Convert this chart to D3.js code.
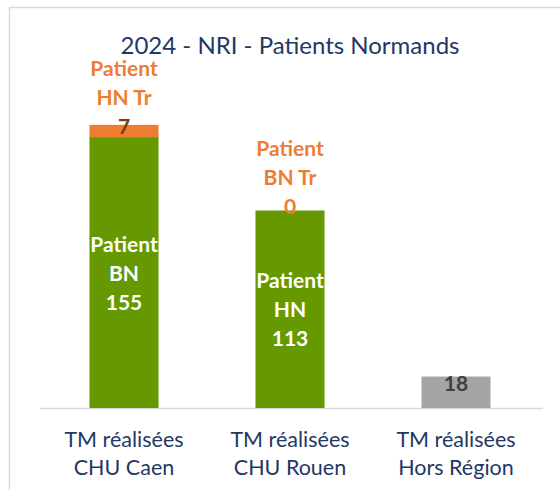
<!DOCTYPE html>
<html>
<head>
<meta charset="utf-8">
<script src="https://cdn.jsdelivr.net/npm/d3@7"></script>
<style>
  body { margin: 0; background: #fff; }
  text { font-family: Lato, "Open Sans", sans-serif; }
</style>
</head>
<body>
<div id="chart"></div>
<script>
// categories, split in two lines like the original
var categories = ["Caen", "Rouen", "Hors"];
var catLines = [["TM réalisées", "CHU Caen"], ["TM réalisées", "CHU Rouen"], ["TM réalisées", "Hors Région"]];
var baseValues = [155, 113, 18];
var baseNames = [["Patient", "BN"], ["Patient", "HN"], []];
var baseColors = ["#669900", "#669900", "#a5a5a5"];
var trValues = [7, 0, 0];
var trNames = [["Patient", "HN Tr"], ["Patient", "BN Tr"], null];
var title = "2024 - NRI - Patients Normands";

var W = 560, H = 490;
var svg = d3.select("#chart").append("svg")
    .attr("width", W)
    .attr("height", H);

// light frame around the chart area
svg.append("rect")
    .attr("x", 9.5).attr("y", 7.5)
    .attr("width", W).attr("height", H)
    .attr("fill", "none")
    .attr("stroke", "#d9d9d9")
    .attr("stroke-width", 1.5);

var x = d3.scaleBand().domain(categories).range([41, 539])
    .paddingInner(0.584).paddingOuter(0.292);
var y = d3.scaleLinear().domain([0, 180]).range([408, 93.4]);

var data = categories.map(function(c, i) {
  return {cat: c, base: baseValues[i], tr: trValues[i]};
});
var stack = d3.stack().keys(["base", "tr"])(data);

svg.append("text")
    .attr("x", 290)
    .attr("y", 54)
    .attr("text-anchor", "middle")
    .style("font-size", "24px")
    .style("fill", "#1f3864")
    .text(title);

// axis line
svg.append("line")
    .attr("x1", 40).attr("x2", 543)
    .attr("y1", 408.5).attr("y2", 408.5)
    .attr("stroke", "#d9d9d9")
    .attr("stroke-width", 1.5);

svg.selectAll(".base")
    .data(stack[0])
  .enter().append("rect")
    .attr("class", "base")
    .attr("x", function(d) { return x(d.data.cat); })
    .attr("width", x.bandwidth())
    .attr("y", function(d) { return y(d[1]); })
    .attr("height", function(d) { return y(d[0]) - y(d[1]); })
    .attr("fill", function(d, i) { return baseColors[i]; });

svg.selectAll(".tr")
    .data(stack[1])
  .enter().append("rect")
    .attr("class", "tr")
    .attr("x", function(d) { return x(d.data.cat); })
    .attr("width", x.bandwidth())
    .attr("y", function(d) { return y(d[1]); })
    .attr("height", function(d) { return y(d[0]) - y(d[1]); })
    .attr("fill", "#ed7d31");

var lh = 29;

// labels inside the base segment
stack[0].forEach(function(d, i) {
  var cx = x(d.data.cat) + x.bandwidth() / 2;
  if (baseNames[i].length) {
    var lines = baseNames[i].concat([String(baseValues[i])]);
    var mid = (y(d[0]) + y(d[1])) / 2;
    lines.forEach(function(t, j) {
      svg.append("text")
        .attr("x", cx)
        .attr("y", mid + 8 + (j - 1) * lh)
        .attr("text-anchor", "middle")
        .style("font-size", "21px")
        .style("font-weight", "bold")
        .style("fill", "#ffffff")
        .text(t);
    });
  } else {
    svg.append("text")
      .attr("x", cx)
      .attr("y", y(d[1]) + 14)
      .attr("text-anchor", "middle")
      .style("font-size", "21px")
      .style("font-weight", "bold")
      .style("fill", "#404040")
      .text(baseValues[i]);
  }
});

// labels for the transfer segment
stack[1].forEach(function(d, i) {
  if (!trNames[i]) return;
  var cx = x(d.data.cat) + x.bandwidth() / 2;
  var mid = (y(d[0]) + y(d[1])) / 2;
  var lines = trNames[i].concat([String(trValues[i])]);
  lines.forEach(function(t, j) {
    var last = j == lines.length - 1;
    svg.append("text")
      .attr("x", cx)
      .attr("y", mid + 3 + (j - 2) * lh)
      .attr("text-anchor", "middle")
      .style("font-size", "21px")
      .style("font-weight", "bold")
      .style("fill", (last && trValues[i] > 0) ? "#843c0c" : "#ed7d31")
      .text(t);
  });
});

// category labels
categories.forEach(function(c, i) {
  var cx = x(c) + x.bandwidth() / 2;
  catLines[i].forEach(function(t, j) {
    svg.append("text")
      .attr("x", cx)
      .attr("y", 447 + j * 28)
      .attr("text-anchor", "middle")
      .style("font-size", "21.5px")
      .style("fill", "#1f3864")
      .text(t);
  });
});
</script>
</body>
</html>
